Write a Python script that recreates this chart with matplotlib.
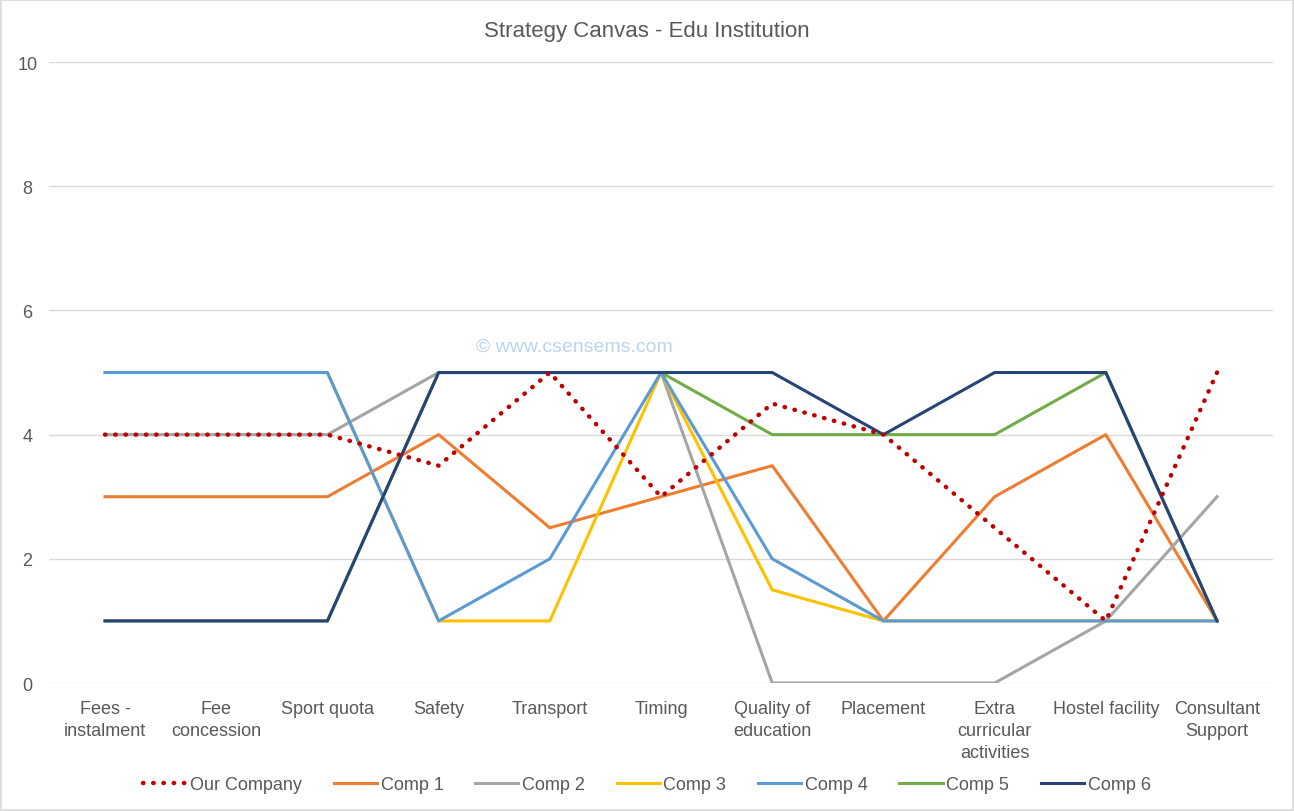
import matplotlib
matplotlib.use("Agg")
import matplotlib.pyplot as plt
from matplotlib.patches import Rectangle

plt.rcParams['font.family'] = ['Liberation Sans', 'DejaVu Sans']

categories = ["Fees -\ninstalment", "Fee\nconcession", "Sport quota", "Safety", "Transport",
              "Timing", "Quality of\neducation", "Placement", "Extra\ncurricular\nactivities",
              "Hostel facility", "Consultant\nSupport"]
our_company = [4, 4, 4, 3.5, 5, 3, 4.5, 4, 2.5, 1, 5]
comp1 = [3, 3, 3, 4, 2.5, 3, 3.5, 1, 3, 4, 1]
comp2 = [4, 4, 4, 5, 5, 5, 0, 0, 0, 1, 3]
comp3 = [5, 5, 5, 1, 1, 5, 1.5, 1, 1, 1, 1]
comp4 = [5, 5, 5, 1, 2, 5, 2, 1, 1, 1, 1]
comp5 = [1, 1, 1, 5, 5, 5, 4, 4, 4, 5, 1]
comp6 = [1, 1, 1, 5, 5, 5, 5, 4, 5, 5, 1]
yticks = [0, 2, 4, 6, 8, 10]

fig = plt.figure(figsize=(12.94, 8.12), dpi=100)
ax = fig.add_axes([0.0382, 0.1576, 0.9453, 0.7648])
fig.patches.append(Rectangle((0.001, 0.001), 0.998, 0.998, transform=fig.transFigure,
                             fill=False, edgecolor='#d9d9d9', linewidth=1.2))

x = list(range(len(categories)))
ax.plot(x, our_company, color='#c00000', linewidth=3.2, linestyle=(0, (0.1, 2.2)),
        dash_capstyle='round', label='Our Company', zorder=10)
ax.plot(x, comp1, color='#ed7d31', linewidth=2.2, label='Comp 1', zorder=3)
ax.plot(x, comp2, color='#a5a5a5', linewidth=2.2, label='Comp 2', zorder=4)
ax.plot(x, comp3, color='#ffc000', linewidth=2.2, label='Comp 3', zorder=5)
ax.plot(x, comp4, color='#5b9bd5', linewidth=2.2, label='Comp 4', zorder=6)
ax.plot(x, comp5, color='#70ad47', linewidth=2.2, label='Comp 5', zorder=7)
ax.plot(x, comp6, color='#264478', linewidth=2.2, label='Comp 6', zorder=8)

ax.set_xlim(-0.5, len(categories) - 0.5)
ax.set_ylim(0, 10)
ax.set_yticks(yticks)
ax.set_xticks(x)
ax.set_xticklabels(categories, fontsize=13, color='#595959', linespacing=1.4, va='top')
ax.tick_params(axis='y', labelsize=13, labelcolor='#595959', length=0, pad=16)
ax.tick_params(axis='x', length=0, pad=12)
for lab in ax.get_yticklabels():
    lab.set_horizontalalignment('center')
ax.grid(axis='y', color='#d9d9d9', linewidth=1)
ax.set_axisbelow(True)
for s in ax.spines.values():
    s.set_visible(False)

fig.text(0.5, 1 - 32 / 812, "Strategy Canvas - Edu Institution", fontsize=16, color='#595959',
         ha='center', va='center')
fig.text(0.444, 0.572, "© www.csensems.com", fontsize=14, color='#9dc3e6', alpha=0.7,
         ha='center', va='center')

leg = fig.legend(loc='center', bbox_to_anchor=(0.5, 1 - 786 / 812), ncol=7, frameon=False,
                 fontsize=13, handlelength=2.4, handletextpad=0.2, columnspacing=1.75)
for t in leg.get_texts():
    t.set_color('#595959')

fig.savefig("out.png", dpi=100)
